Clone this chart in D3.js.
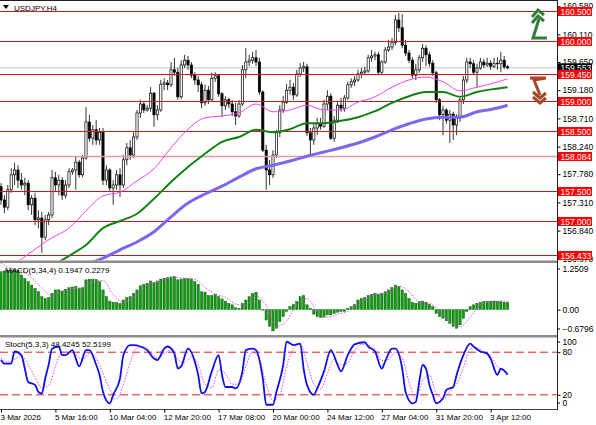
<!DOCTYPE html>
<html><head><meta charset="utf-8">
<script src="https://cdn.jsdelivr.net/npm/d3@7"></script>
<style>
body{margin:0;background:#fff;}
svg{display:block;}
text{font-family:"Liberation Sans",Arial,sans-serif;}
</style></head>
<body><svg id="c" width="596" height="425"></svg>
<script>
// ---------------- DATA ----------------
const symbolTitle = "USDJPY,H4";
const macdTitle = "MACD(5,34,4) 0.1947 0.2279";
const stochTitle = "Stoch(5,3,3) 48.4245 52.5199";

const opens = [157.57,157.35,157.23,157.52,157.77,157.85,157.68,157.60,157.63,157.27,
157.38,157.02,157.05,156.73,157.02,157.10,157.72,157.60,157.68,157.43,
157.60,157.82,157.85,157.98,157.77,158.05,158.65,158.38,158.52,158.35,
158.48,157.68,157.85,157.55,157.60,157.77,157.60,158.02,158.22,158.10,
158.40,158.80,158.95,158.85,158.88,159.13,158.77,158.85,159.28,159.30,
159.27,159.52,159.48,159.07,159.60,159.68,159.60,159.43,159.35,159.27,
158.97,159.18,159.02,159.38,159.42,159.12,158.92,159.02,158.95,158.82,
158.75,158.95,159.52,159.65,159.68,159.72,159.65,159.15,158.18,157.85,
157.77,158.10,158.47,158.85,158.98,159.18,159.23,159.10,159.45,159.55,
159.57,158.47,158.35,158.55,158.62,158.58,158.95,159.08,158.38,158.68,
158.93,158.88,159.05,159.27,159.32,159.35,159.45,159.48,159.50,159.72,
159.75,159.77,159.48,159.65,159.85,159.90,159.97,160.35,160.22,159.93,
159.80,159.68,159.43,159.52,159.72,159.88,159.77,159.63,159.47,159.02,
158.77,158.85,158.68,158.78,158.60,158.72,159.02,159.35,159.65,159.62,
159.48,159.55,159.65,159.60,159.63,159.58,159.63,159.62,159.68,159.57];
const highs = [157.63,157.43,157.60,157.88,157.97,157.93,157.80,157.72,157.68,157.43,
157.47,157.18,157.15,157.10,157.15,157.85,157.82,157.77,157.73,157.68,
157.88,157.88,158.07,158.02,158.10,158.90,158.77,158.60,158.68,158.55,
158.55,157.93,157.88,157.68,157.85,157.88,158.10,158.30,158.35,158.48,
158.85,159.02,158.98,158.93,159.23,159.15,158.93,159.35,159.38,159.35,
159.65,159.72,159.55,159.68,159.77,159.75,159.65,159.48,159.42,159.32,
159.27,159.25,159.47,159.48,159.45,159.15,159.08,159.05,159.02,158.97,
159.02,159.60,159.88,159.77,159.82,159.85,159.72,159.18,158.27,158.02,
158.18,158.52,158.93,159.08,159.28,159.35,159.30,159.52,159.63,159.65,
159.62,158.55,158.62,158.72,158.72,159.02,159.18,159.13,158.75,158.98,
159.05,159.10,159.32,159.38,159.42,159.52,159.55,159.57,159.77,159.85,
159.82,159.82,159.68,159.90,160.02,160.05,160.43,160.47,160.45,160.02,
159.85,159.73,159.62,159.77,159.95,159.93,159.82,159.68,159.50,159.05,
158.92,158.88,158.85,158.82,158.78,159.05,159.42,159.72,159.72,159.68,
159.62,159.72,159.70,159.72,159.68,159.72,159.73,159.82,159.75,159.60];
const lows = [157.27,157.13,157.18,157.47,157.60,157.55,157.52,157.43,157.18,157.10,
156.93,156.88,156.47,156.68,156.93,157.05,157.48,157.43,157.35,157.38,
157.55,157.77,157.52,157.72,157.73,158.02,158.32,158.27,158.27,158.27,
157.60,157.60,157.48,157.27,157.52,157.40,157.55,157.93,158.02,158.05,
158.35,158.72,158.80,158.82,158.82,158.57,158.68,158.82,159.18,159.18,
159.23,159.42,159.02,159.03,159.55,159.52,159.38,159.27,159.15,158.88,
158.92,158.95,158.98,159.32,159.07,158.73,158.85,158.88,158.75,158.60,
158.72,158.92,159.38,159.58,159.62,159.58,159.10,158.15,157.52,157.60,
157.72,158.05,158.40,158.80,158.95,159.10,159.02,159.07,159.40,159.48,
158.42,158.07,158.27,158.43,158.52,158.55,158.85,158.35,158.32,158.63,
158.82,158.82,159.02,159.22,159.25,159.32,159.38,159.43,159.47,159.65,
159.68,159.43,159.45,159.62,159.82,159.85,159.93,160.15,159.88,159.75,
159.63,159.38,159.35,159.47,159.65,159.58,159.57,159.42,158.97,158.68,
158.43,158.62,158.30,158.35,158.43,158.65,158.95,159.30,159.55,159.43,
159.23,159.52,159.55,159.57,159.52,159.55,159.52,159.48,159.53,159.53];
const closes = [157.35,157.23,157.52,157.77,157.85,157.68,157.60,157.63,157.27,157.38,
157.02,157.05,156.73,157.02,157.10,157.72,157.60,157.68,157.43,157.60,
157.82,157.85,157.98,157.77,158.05,158.65,158.38,158.52,158.35,158.48,
157.68,157.85,157.55,157.60,157.77,157.60,158.02,158.22,158.10,158.40,
158.80,158.95,158.85,158.88,159.13,158.77,158.85,159.28,159.30,159.27,
159.52,159.48,159.07,159.60,159.68,159.60,159.43,159.35,159.27,158.97,
159.18,159.02,159.38,159.42,159.12,158.92,159.02,158.95,158.82,158.75,
158.95,159.52,159.65,159.68,159.72,159.65,159.15,158.18,157.85,157.77,
158.10,158.47,158.85,158.98,159.18,159.23,159.10,159.45,159.55,159.57,
158.47,158.35,158.55,158.62,158.58,158.95,159.08,158.38,158.68,158.93,
158.88,159.05,159.27,159.32,159.35,159.45,159.48,159.50,159.72,159.75,
159.77,159.48,159.65,159.85,159.90,159.97,160.35,160.22,159.93,159.80,
159.68,159.43,159.52,159.72,159.88,159.77,159.63,159.47,159.02,158.77,
158.85,158.68,158.78,158.60,158.72,159.02,159.35,159.65,159.62,159.48,
159.55,159.65,159.60,159.63,159.58,159.63,159.62,159.68,159.57,159.553];

// moving averages, read at every 5th bar
const maBarIdx = [0,5,10,15,20,25,30,35,40,45,50,55,60,65,70,75,80,85,90,95,100,105,110,115,120,125,130,135,140,145,149];
const maFast = [156.13,156.32,156.53,156.72,156.88,157.17,157.42,157.48,157.67,157.87,158.22,158.53,158.72,158.75,158.80,158.95,158.82,158.85,158.93,158.85,158.85,158.98,159.07,159.23,159.35,159.40,159.32,159.17,159.23,159.30,159.37];
const maMid = [155.85,155.93,156.10,156.25,156.42,156.60,156.88,157.00,157.12,157.37,157.65,157.90,158.12,158.32,158.40,158.52,158.48,158.53,158.63,158.63,158.67,158.73,158.83,158.97,159.08,159.15,159.15,159.07,159.15,159.20,159.23];
const maSlow = [155.68,155.77,155.90,156.02,156.13,156.27,156.38,156.52,156.65,156.82,157.07,157.30,157.45,157.58,157.73,157.87,157.93,158.00,158.08,158.15,158.22,158.30,158.40,158.52,158.62,158.70,158.73,158.73,158.82,158.87,158.93];

const macdHist = [1.02,1.04,1.06,1.06,1.06,1.05,0.93,0.84,0.75,0.66,
0.57,0.48,0.35,0.30,0.32,0.44,0.53,0.53,0.50,0.55,
0.59,0.61,0.62,0.57,0.59,0.80,0.82,0.82,0.81,0.75,
0.53,0.35,0.23,0.20,0.20,0.17,0.26,0.32,0.35,0.44,
0.53,0.64,0.68,0.71,0.77,0.73,0.77,0.82,0.84,0.86,
0.88,0.89,0.80,0.82,0.84,0.84,0.82,0.75,0.68,0.48,
0.47,0.38,0.38,0.41,0.35,0.29,0.23,0.17,0.13,0.05,
0.04,0.17,0.26,0.35,0.44,0.47,0.26,-0.01,-0.28,-0.45,
-0.57,-0.50,-0.32,-0.19,-0.05,0.08,0.14,0.22,0.35,0.38,
0.13,0.04,-0.12,-0.19,-0.21,-0.20,-0.14,-0.14,-0.10,-0.07,
-0.05,-0.05,0.04,0.08,0.14,0.26,0.30,0.32,0.38,0.41,
0.44,0.41,0.44,0.48,0.53,0.59,0.66,0.62,0.53,0.44,
0.30,0.20,0.17,0.22,0.23,0.20,0.14,0.08,-0.10,-0.19,
-0.23,-0.30,-0.37,-0.45,-0.50,-0.41,-0.23,-0.05,0.08,0.13,
0.17,0.20,0.22,0.23,0.23,0.23,0.22,0.22,0.20,0.1947];
const macdSignalPts = [[0,1.25],[3,1.10],[6,1.05],[9,0.85],[12,0.58],[15,0.36],[18,0.50],[21,0.56],[24,0.60],[27,0.74],[30,0.78],[33,0.40],[36,0.20],[39,0.32],[42,0.58],[45,0.73],[48,0.79],[51,0.87],[54,0.84],[57,0.82],[60,0.60],[63,0.42],[66,0.33],[69,0.15],[72,0.12],[75,0.38],[78,0.10],[81,-0.45],[84,-0.30],[87,0.12],[90,0.30],[93,-0.05],[96,-0.20],[99,-0.12],[102,-0.04],[105,0.14],[108,0.32],[111,0.42],[114,0.47],[117,0.63],[120,0.48],[123,0.20],[126,0.17],[129,-0.05],[132,-0.30],[135,-0.46],[138,-0.20],[141,0.14],[144,0.22],[147,0.23],[149,0.2279]];
const macdMax = 1.2509, macdMin = -0.6796;

const stochMainPts = [[0,69],[1,64],[3,64],[4,81],[6,76],[7,57],[8,38],[10,34],[11,24],[12,22],[13,43],[14,62],[15,85],[17,88],[18,76],[19,76],[21,83],[22,71],[23,60],[25,83],[26,83],[28,62],[29,48],[30,24],[32,8],[33,20],[35,43],[36,76],[38,90],[39,90],[41,88],[43,83],[45,71],[46,69],[48,85],[49,88],[51,78],[52,57],[53,60],[55,85],[57,67],[58,48],[59,22],[60,24],[62,53],[64,76],[65,48],[66,31],[68,31],[69,29],[71,53],[72,83],[74,85],[75,83],[77,43],[78,6],[80,6],[81,24],[83,62],[84,95],[86,90],[88,92],[89,57],[90,34],[92,20],[93,29],[95,53],[97,83],[99,62],[100,53],[102,76],[104,91],[107,94],[108,88],[110,81],[112,57],[113,67],[115,85],[116,85],[118,57],[119,24],[121,8],[122,10],[123,38],[124,62],[125,57],[126,34],[127,20],[128,8],[130,15],[131,27],[133,31],[134,48],[136,76],[138,92],[139,88],[141,81],[143,78],[144,71],[146,48],[147,57],[149,48.42]];
const stochSignalPts = [[0,72],[2,66],[4,70],[6,75],[8,62],[10,45],[12,30],[14,33],[16,60],[18,80],[20,80],[22,76],[24,70],[26,78],[28,72],[30,50],[32,28],[34,14],[36,35],[38,65],[40,86],[42,88],[44,80],[46,72],[48,78],[50,83],[52,70],[54,65],[56,74],[58,62],[60,35],[62,30],[64,55],[66,50],[68,35],[70,35],[72,60],[74,80],[76,70],[78,35],[80,12],[82,20],[84,60],[86,85],[88,92],[90,65],[92,35],[94,28],[96,50],[98,70],[100,62],[102,65],[104,82],[106,91],[108,90],[110,84],[112,68],[114,70],[116,80],[118,72],[120,38],[122,15],[124,40],[126,48],[128,22],[130,14],[132,25],[134,35],[136,58],[138,85],[140,86],[142,80],[144,75],[146,60],[149,52.52]];
const stochLevels = [80,20];

const levelPrices = [160.5,160.0,159.45,159.0,158.5,158.084,157.5,157.0,156.433];
const faintLevel = 158.084;
const priceTicks = [160.58,160.11,159.65,159.18,158.71,158.24,157.78,157.31,156.84,156.37];
const lastPrice = 159.553;

const timeLabels = ["3 Mar 2026","5 Mar 16:00","10 Mar 04:00","12 Mar 20:00","17 Mar 08:00","20 Mar 00:00","24 Mar 12:00","27 Mar 04:00","31 Mar 20:00","3 Apr 12:00"];
const timeLabelIdx = [0,16,32,48,64,80,96,112,128,144];

// ---------------- LAYOUT ----------------
const svg = d3.select("#c");
const plotR = 557;
const mainTop = 1, mainBot = 260.5;
const macdTop = 263, macdBot = 335;
const stTop = 338, stBot = 409;

const x = d3.scaleLinear().domain([0, closes.length - 1]).range([1, 507.6]);
const yMain = d3.scaleLinear().domain([156.433, 160.5]).range([255, 11]);
const yMacd = d3.scaleLinear().domain([macdMin, macdMax]).range([macdBot, macdTop]);
const yStoch = d3.scaleLinear().domain([0, 100]).range([stBot, stTop]);

const defs = svg.append("defs");
[["cMain", mainTop, mainBot], ["cMacd", macdTop, macdBot], ["cSt", stTop, stBot]].forEach(([id, t, b]) => {
  defs.append("clipPath").attr("id", id).append("rect").attr("x", 0).attr("y", t).attr("width", plotR).attr("height", b - t);
});

// ---------- MAIN PANEL ----------
const gMain = svg.append("g").attr("clip-path", "url(#cMain)");
// bid line
gMain.append("line").attr("x1", 0).attr("x2", plotR).attr("y1", yMain(lastPrice)).attr("y2", yMain(lastPrice))
  .attr("stroke", "#c0c0c0").attr("stroke-width", 1);

// candles
const cand = gMain.append("g");
closes.forEach((c, i) => {
  const o = opens[i], h = highs[i], l = lows[i];
  const cx = x(i);
  cand.append("line").attr("x1", cx).attr("x2", cx).attr("y1", yMain(h)).attr("y2", yMain(l))
    .attr("stroke", "#000").attr("stroke-width", 0.8);
  const top = yMain(Math.max(o, c)), bot = yMain(Math.min(o, c));
  cand.append("rect").attr("x", cx - 1.1).attr("width", 2.2).attr("y", top).attr("height", Math.max(0.6, bot - top))
    .attr("fill", c >= o ? "#fff" : "#000").attr("stroke", "#000").attr("stroke-width", 0.7);
});

// level lines
levelPrices.forEach(p => {
  gMain.append("line").attr("x1", 0).attr("x2", plotR).attr("y1", Math.round(yMain(p)) + 0.5).attr("y2", Math.round(yMain(p)) + 0.5)
    .attr("stroke", p === faintLevel ? "#e89a9a" : "#d01818").attr("stroke-width", p === faintLevel ? 1.5 : 1);
});

// moving averages
const maLine = arr => d3.line().x((d, k) => x(maBarIdx[k])).y(d => yMain(d)).curve(d3.curveMonotoneX)(arr);
gMain.append("path").attr("d", maLine(maSlow)).attr("fill", "none").attr("stroke", "#7b68ee").attr("stroke-width", 3);
gMain.append("path").attr("d", maLine(maMid)).attr("fill", "none").attr("stroke", "#128212").attr("stroke-width", 2);
gMain.append("path").attr("d", maLine(maFast)).attr("fill", "none").attr("stroke", "#ee44ee").attr("stroke-width", 1);

// title
svg.append("path").attr("d", "M3,5 L9,5 L6,9 Z").attr("fill", "#000");
svg.append("text").attr("x", 14).attr("y", 10.5).attr("font-size", 8).text(symbolTitle);

// arrows
const arrows = svg.append("g").attr("fill", "none").attr("stroke-width", 3).attr("stroke-linejoin", "miter");
arrows.append("path").attr("d", "M547,38 L533,38 L539,19").attr("stroke", "#2f7f3a");
arrows.append("path").attr("d", "M532,17 L538,10 L544,15").attr("stroke", "#2f7f3a");
arrows.append("path").attr("d", "M532,23 L538,16 L544,21").attr("stroke", "#2f7f3a");
arrows.append("path").attr("d", "M530,78 L546,78 L534,80 L540,95").attr("stroke", "#a44a28");
arrows.append("path").attr("d", "M533,92 L540,98 L546,93").attr("stroke", "#a44a28");
arrows.append("path").attr("d", "M533,97 L540,103 L546,98").attr("stroke", "#a44a28");

// ---------- MACD PANEL ----------
const gMacd = svg.append("g").attr("clip-path", "url(#cMacd)");
macdHist.forEach((v, i) => {
  const y0 = yMacd(0), y1 = yMacd(v);
  gMacd.append("rect").attr("x", x(i) - 1.2).attr("width", 2.4)
    .attr("y", Math.min(y0, y1)).attr("height", Math.max(0.5, Math.abs(y1 - y0)))
    .attr("fill", "#119911").attr("stroke", "#0a600a").attr("stroke-width", 0.4);
});
gMacd.append("path").attr("d", d3.line().x(d => x(d[0])).y(d => yMacd(d[1])).curve(d3.curveMonotoneX)(macdSignalPts))
  .attr("fill", "none").attr("stroke", "#ee44ee").attr("stroke-width", 1).attr("stroke-dasharray", "1.5,1.5");
svg.append("text").attr("x", 5).attr("y", 273).attr("font-size", 8).text(macdTitle);

// ---------- STOCH PANEL ----------
const gSt = svg.append("g").attr("clip-path", "url(#cSt)");
stochLevels.forEach(v => {
  gSt.append("line").attr("x1", 0).attr("x2", plotR).attr("y1", yStoch(v)).attr("y2", yStoch(v))
    .attr("stroke", "#e02020").attr("stroke-width", 1).attr("stroke-dasharray", "8,4");
});
gSt.append("path").attr("d", d3.line().x(d => x(d[0])).y(d => yStoch(d[1])).curve(d3.curveMonotoneX)(stochSignalPts))
  .attr("fill", "none").attr("stroke", "#ee44ee").attr("stroke-width", 1).attr("stroke-dasharray", "1.5,1.5");
gSt.append("path").attr("d", d3.line().x(d => x(d[0])).y(d => yStoch(d[1])).curve(d3.curveMonotoneX)(stochMainPts))
  .attr("fill", "none").attr("stroke", "#1010e8").attr("stroke-width", 1.8);
svg.append("text").attr("x", 5).attr("y", 347).attr("font-size", 8).text(stochTitle);

// ---------- FRAMES ----------
svg.append("line").attr("x1", 0).attr("x2", plotR).attr("y1", 0.5).attr("y2", 0.5).attr("stroke", "#202020");
svg.append("rect").attr("x", 0).attr("y", 260.5).attr("width", plotR).attr("height", 2.5).attr("fill", "#8c8c8c");
svg.append("rect").attr("x", 0).attr("y", 335).attr("width", plotR).attr("height", 2.5).attr("fill", "#8c8c8c");
svg.append("line").attr("x1", 0).attr("x2", plotR).attr("y1", stBot + 0.5).attr("y2", stBot + 0.5).attr("stroke", "#404040");
svg.append("line").attr("x1", plotR + 0.5).attr("x2", plotR + 0.5).attr("y1", 0).attr("y2", stBot + 1).attr("stroke", "#202020");

// ---------- RIGHT AXES ----------
const axMain = svg.append("g").attr("transform", `translate(${plotR + 0.5},0)`)
  .call(d3.axisRight(yMain).tickValues(priceTicks).tickFormat(d3.format(".3f")).tickSize(3).tickPadding(2));
axMain.select(".domain").remove();
axMain.selectAll("text").attr("font-size", 8.5).attr("font-family", "Liberation Sans, Arial, sans-serif").attr("fill", "#000");

// current price label (black), then red level labels
svg.append("rect").attr("x", 558).attr("y", yMain(lastPrice) - 4.5).attr("width", 34).attr("height", 9).attr("fill", "#000");
svg.append("text").attr("x", 560.5).attr("y", yMain(lastPrice) + 3.2).attr("font-size", 8.5).attr("fill", "#fff").text(d3.format(".3f")(lastPrice));
levelPrices.forEach(p => {
  const yy = Math.round(yMain(p)) + 0.5;
  svg.append("rect").attr("x", 558).attr("y", yy - 4.5).attr("width", 34).attr("height", 9).attr("fill", "#ff0000");
  svg.append("text").attr("x", 560.5).attr("y", yy + 3.2).attr("font-size", 8.5).attr("fill", "#fff").text(d3.format(".3f")(p));
});

// MACD axis
const axMacd = svg.append("g").attr("transform", `translate(${plotR + 0.5},0)`)
  .call(d3.axisRight(yMacd).tickValues([0]).tickFormat(d3.format(".2f")).tickSize(3).tickPadding(2));
axMacd.select(".domain").remove();
axMacd.selectAll("text").attr("font-size", 8.5).attr("font-family", "Liberation Sans, Arial, sans-serif");
[[macdMax, 6], [macdMin, -6]].forEach(([v, off]) => {
  const yy = yMacd(v) + off;
  svg.append("line").attr("x1", plotR).attr("x2", plotR + 3).attr("y1", yy).attr("y2", yy).attr("stroke", "#000");
  svg.append("text").attr("x", 562.5).attr("y", yy + 3).attr("font-size", 8.5).text(d3.format(".4f")(v));
});

// Stoch axis
const axSt = svg.append("g").attr("transform", `translate(${plotR + 0.5},0)`)
  .call(d3.axisRight(yStoch).tickValues(stochLevels).tickFormat(d3.format("d")).tickSize(3).tickPadding(2));
axSt.select(".domain").remove();
axSt.selectAll("text").attr("font-size", 8.5).attr("font-family", "Liberation Sans, Arial, sans-serif");
[[100, 4], [0, -6]].forEach(([v, off]) => {
  const yy = yStoch(v) + off;
  svg.append("line").attr("x1", plotR).attr("x2", plotR + 3).attr("y1", yy).attr("y2", yy).attr("stroke", "#000");
  svg.append("text").attr("x", 562.5).attr("y", yy + 3).attr("font-size", 8.5).text(v);
});

// ---------- TIME AXIS ----------
const axT = svg.append("g").attr("transform", `translate(0,${stBot + 0.5})`)
  .call(d3.axisBottom(x).tickValues(timeLabelIdx).tickFormat((d, k) => timeLabels[k]).tickSize(3).tickPadding(2));
axT.select(".domain").remove();
axT.selectAll("text").attr("font-size", 8).attr("text-anchor", "start").attr("dx", -1)
  .attr("font-family", "Liberation Sans, Arial, sans-serif");
</script></body></html>
